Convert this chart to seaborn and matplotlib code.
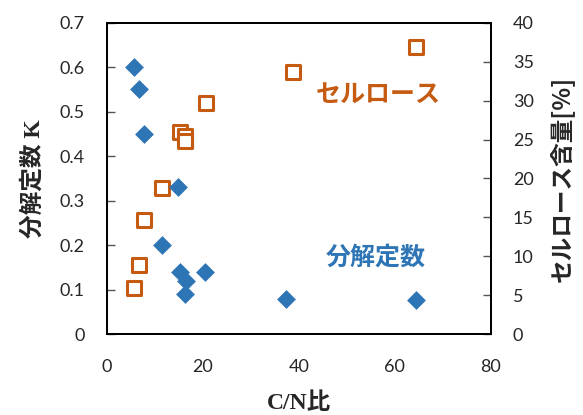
import matplotlib
matplotlib.use("Agg")
import matplotlib.pyplot as plt
import pandas as pd
import seaborn as sns

# decomposition constant K vs C/N ratio
cn_k = [5.6, 6.7, 7.7, 11.4, 14.9, 15.2, 16.5, 16.3, 20.5, 37.4, 64.5]
k_val = [0.60, 0.55, 0.45, 0.20, 0.33, 0.14, 0.12, 0.09, 0.14, 0.08, 0.078]

# cellulose content [%] vs C/N ratio
cn_cel = [5.6, 6.7, 7.7, 11.4, 15.3, 16.2, 16.3, 20.6, 38.8, 64.5]
cel_val = [5.9, 8.9, 14.7, 18.8, 26.0, 25.5, 24.8, 29.7, 33.7, 36.9]

blue = "#2E75B6"
orange = "#C55A11"

df_k = pd.DataFrame({"CN": cn_k, "K": k_val})
df_c = pd.DataFrame({"CN": cn_cel, "Cellulose": cel_val})

sns.set_style("white")
plt.rcParams["font.family"] = ["Lato", "Noto Sans CJK JP"]

fig = plt.figure(figsize=(5.83, 4.15), dpi=100)
ax = fig.add_axes([0.1835, 0.1945, 0.6582, 0.7508])
ax2 = ax.twinx()

sns.scatterplot(data=df_k, x="CN", y="K", ax=ax, marker="D", s=92,
                color=blue, linewidth=0, zorder=3)
sns.scatterplot(data=df_c, x="CN", y="Cellulose", ax=ax2, marker="s", s=105,
                facecolor="white", edgecolor=orange, linewidth=2.2, zorder=3)

ax.set_xlim(0, 80)
ax.set_ylim(0, 0.7)
ax2.set_ylim(0, 40)
ax.set_xticks([0, 20, 40, 60, 80])
ax.set_yticks([0, 0.1, 0.2, 0.3, 0.4, 0.5, 0.6, 0.7])
ax.set_yticklabels(["0", "0.1", "0.2", "0.3", "0.4", "0.5", "0.6", "0.7"])
ax2.set_yticks(range(0, 41, 5))

for a in (ax, ax2):
    a.tick_params(direction="in", length=5.5, width=1, color="#555555",
                  labelsize=13, pad=16)
    for sp in a.spines.values():
        sp.set_color("black")
        sp.set_linewidth(1.4)
ax.tick_params(axis="x", pad=18)

ax.set_xlabel("C/N比", fontsize=17, fontweight="bold",
              family=["Liberation Serif", "Noto Sans CJK JP"], labelpad=12)
ax.set_ylabel("分解定数 K", fontsize=17, fontweight="bold",
              family=["Liberation Serif", "Noto Sans CJK JP"], labelpad=11)
ax2.set_ylabel("セルロース含量[%]", fontsize=17, fontweight="bold",
               family=["Noto Sans CJK JP"], labelpad=12)

ax.text(0.706, 0.768, "セルロース", transform=ax.transAxes, fontsize=18,
        fontweight="bold", color=orange, ha="center", va="center",
        family=["Noto Sans CJK JP"])
ax.text(0.70, 0.245, "分解定数", transform=ax.transAxes, fontsize=18,
        fontweight="bold", color=blue, ha="center", va="center",
        family=["Noto Sans CJK JP"])

ax.set_zorder(ax2.get_zorder() + 1)
ax.patch.set_visible(False)

fig.savefig("out.png", dpi=100)
